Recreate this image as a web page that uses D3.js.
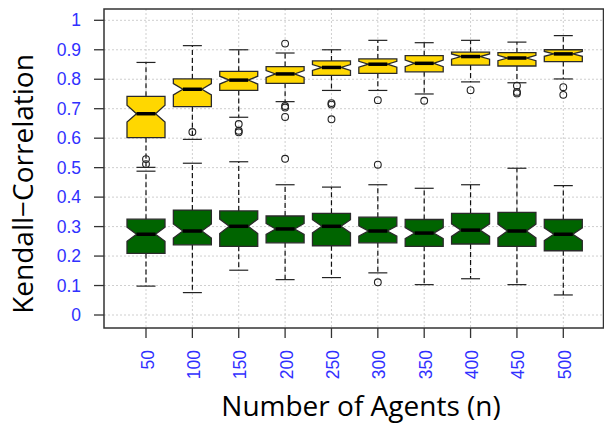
<!DOCTYPE html>
<html>
<head>
<meta charset="utf-8">
<script src="https://cdn.jsdelivr.net/npm/d3@7"></script>
<style>
  html, body { margin: 0; padding: 0; background: #fff; }
  svg { display: block; }
</style>
</head>
<body>
<div id="chart"></div>
<script>
// Number of agents (x categories)
const agents = [50, 100, 150, 200, 250, 300, 350, 400, 450, 500];
const yTicks = [0, 0.1, 0.2, 0.3, 0.4, 0.5, 0.6, 0.7, 0.8, 0.9, 1];

// Upper (gold) series: whisker low, Q1, median, Q3, whisker high, outliers
const goldLo  = [0.501, 0.596, 0.671, 0.724, 0.762, 0.762, 0.750, 0.791, 0.788, 0.801];
const goldQ1  = [0.602, 0.707, 0.762, 0.786, 0.813, 0.820, 0.825, 0.848, 0.845, 0.860];
const goldMed = [0.683, 0.766, 0.797, 0.818, 0.840, 0.851, 0.854, 0.877, 0.872, 0.886];
const goldQ3  = [0.742, 0.801, 0.827, 0.843, 0.862, 0.869, 0.880, 0.892, 0.890, 0.900];
const goldHi  = [0.857, 0.914, 0.900, 0.889, 0.900, 0.932, 0.924, 0.932, 0.926, 0.948];
const goldOut = [[], [], [0.648, 0.625, 0.620], [0.921, 0.709, 0.704, 0.672],
                 [0.719, 0.714, 0.664], [0.729], [0.727], [0.763],
                 [0.778, 0.757, 0.752], [0.773, 0.747]];

// Lower (green) series
const greenLo  = [0.098, 0.076, 0.152, 0.120, 0.127, 0.143, 0.103, 0.123, 0.103, 0.068];
const greenQ1  = [0.209, 0.238, 0.233, 0.245, 0.235, 0.245, 0.233, 0.241, 0.233, 0.218];
const greenMed = [0.274, 0.285, 0.301, 0.292, 0.301, 0.285, 0.278, 0.288, 0.285, 0.274];
const greenQ3  = [0.325, 0.356, 0.353, 0.336, 0.345, 0.332, 0.324, 0.345, 0.348, 0.324];
const greenHi  = [0.488, 0.515, 0.520, 0.442, 0.434, 0.442, 0.430, 0.442, 0.498, 0.439];
const greenOut = [[0.529, 0.512], [0.621], [], [0.530], [], [0.510, 0.111], [], [], [], []];

const nRuns = 60; // runs per box, used for the notch size (R: 1.58*IQR/sqrt(n))

const W = 604, H = 423;
const frame = { left: 104, right: 603.5, top: 9, bottom: 328 };

const svg = d3.select('#chart').append('svg')
  .attr('width', W)
  .attr('height', H);

const x = d3.scalePoint().domain(agents).range([146, 563.3]);
const y = d3.scaleLinear().domain([0, 1]).range([315, 20.3]);

// grid (dotted light gray)
const grid = svg.append('g')
  .attr('stroke', '#cfcfcf')
  .attr('stroke-width', 1)
  .attr('stroke-dasharray', '2,2');
grid.selectAll('line.h').data(yTicks).enter().append('line')
  .attr('x1', frame.left).attr('x2', frame.right)
  .attr('y1', d => y(d)).attr('y2', d => y(d));
grid.selectAll('line.v').data(agents).enter().append('line')
  .attr('y1', frame.top).attr('y2', frame.bottom)
  .attr('x1', d => x(d)).attr('x2', d => x(d));

// build box stats per series
function makeSeries(lo, q1, med, q3, hi, out, fill) {
  return agents.map((a, i) => ({ a, lo: lo[i], q1: q1[i], med: med[i], q3: q3[i], hi: hi[i], out: out[i], fill }));
}
const series = [
  makeSeries(goldLo, goldQ1, goldMed, goldQ3, goldHi, goldOut, '#FFD700'),
  makeSeries(greenLo, greenQ1, greenMed, greenQ3, greenHi, greenOut, '#006400')
];

const halfW = 19;

series.forEach(data => {
  const g = svg.append('g');
  const box = g.selectAll('g.box').data(data).enter().append('g');

  // whiskers
  box.append('line')
    .attr('x1', d => x(d.a)).attr('x2', d => x(d.a))
    .attr('y1', d => y(d.q1)).attr('y2', d => y(d.lo))
    .attr('stroke', '#111').attr('stroke-dasharray', '5,3').attr('stroke-width', 1.2);
  box.append('line')
    .attr('x1', d => x(d.a)).attr('x2', d => x(d.a))
    .attr('y1', d => y(d.q3)).attr('y2', d => y(d.hi))
    .attr('stroke', '#111').attr('stroke-dasharray', '5,3').attr('stroke-width', 1.2);
  // caps
  ['lo', 'hi'].forEach(k => {
    box.append('line')
      .attr('x1', d => x(d.a) - halfW / 2).attr('x2', d => x(d.a) + halfW / 2)
      .attr('y1', d => y(d[k])).attr('y2', d => y(d[k]))
      .attr('stroke', '#222').attr('stroke-width', 1.2);
  });

  // notched box
  box.append('path')
    .attr('d', d => {
      const cx = x(d.a);
      const notch = 1.58 * (d.q3 - d.q1) / Math.sqrt(nRuns);
      const pts = [
        [cx - halfW, y(d.q1)], [cx - halfW, y(d.med - notch)], [cx - halfW / 2, y(d.med)],
        [cx - halfW, y(d.med + notch)], [cx - halfW, y(d.q3)], [cx + halfW, y(d.q3)],
        [cx + halfW, y(d.med + notch)], [cx + halfW / 2, y(d.med)], [cx + halfW, y(d.med - notch)],
        [cx + halfW, y(d.q1)]
      ];
      return d3.line()(pts) + 'Z';
    })
    .attr('fill', d => d.fill)
    .attr('stroke', '#2a2a2a')
    .attr('stroke-width', 1.3);

  // median
  box.append('line')
    .attr('x1', d => x(d.a) - halfW / 2).attr('x2', d => x(d.a) + halfW / 2)
    .attr('y1', d => y(d.med)).attr('y2', d => y(d.med))
    .attr('stroke', '#000').attr('stroke-width', 3.5);

  // outliers
  box.selectAll('circle')
    .data(d => d.out.map(v => ({ a: d.a, v })))
    .enter().append('circle')
    .attr('cx', d => x(d.a)).attr('cy', d => y(d.v))
    .attr('r', 3.4)
    .attr('fill', 'none')
    .attr('stroke', '#222')
    .attr('stroke-width', 1.1);
});

// frame
svg.append('rect')
  .attr('x', frame.left).attr('y', frame.top)
  .attr('width', frame.right - frame.left).attr('height', frame.bottom - frame.top)
  .attr('fill', 'none').attr('stroke', '#333').attr('stroke-width', 1.5);

// y axis ticks and labels
const yAxis = svg.append('g');
yAxis.selectAll('line').data(yTicks).enter().append('line')
  .attr('x1', 94).attr('x2', frame.left)
  .attr('y1', d => y(d)).attr('y2', d => y(d))
  .attr('stroke', '#333').attr('stroke-width', 1.3);
yAxis.selectAll('text').data(yTicks).enter().append('text')
  .attr('x', 81).attr('y', d => y(d))
  .attr('text-anchor', 'end')
  .attr('dominant-baseline', 'central')
  .attr('fill', '#3030ff')
  .style('font-family', 'Liberation Sans, Arial, sans-serif')
  .style('font-size', '17.5px')
  .text(d => d3.format('~g')(d));

// x axis ticks and labels
const xAxis = svg.append('g');
xAxis.selectAll('line').data(agents).enter().append('line')
  .attr('x1', d => x(d)).attr('x2', d => x(d))
  .attr('y1', frame.bottom).attr('y2', 338)
  .attr('stroke', '#333').attr('stroke-width', 1.3);
xAxis.selectAll('text').data(agents).enter().append('text')
  .attr('transform', d => `translate(${x(d) + 1.5},350) rotate(-90)`)
  .attr('text-anchor', 'end')
  .attr('dominant-baseline', 'central')
  .attr('fill', '#3030ff')
  .style('font-family', 'Liberation Sans, Arial, sans-serif')
  .style('font-size', '17.5px')
  .text(d => d);

// titles
svg.append('text')
  .attr('x', 361).attr('y', 416)
  .attr('text-anchor', 'middle')
  .style('font-family', 'Open Sans, sans-serif')
  .style('font-size', '28px')
  .attr('fill', '#000')
  .text('Number of Agents (n)');

svg.append('text')
  .attr('transform', 'translate(33,184) rotate(-90)')
  .attr('text-anchor', 'middle')
  .style('font-family', 'Open Sans, sans-serif')
  .style('font-size', '28px')
  .attr('fill', '#000')
  .text('Kendall\u2212Correlation');
</script>
</body>
</html>
